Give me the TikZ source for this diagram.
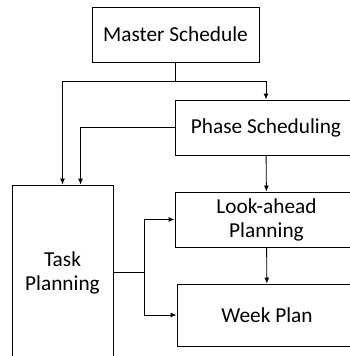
\documentclass[tikz,border=0pt]{standalone}
\usepackage{fontspec}
\setmainfont{Carlito}
\usetikzlibrary{arrows.meta}
\tikzset{
  blk/.style={draw,line width=0.9pt,align=center,inner sep=2pt,
    font=\fontsize{21.3}{24}\selectfont},
  flow/.style={line width=0.9pt,-{Latex[length=6pt,width=5pt]}}
}

\begin{document}
\begin{tikzpicture}[x=1pt,y=-1pt]
            \useasboundingbox (0,0) rectangle (350,356);

            \node [blk,minimum width=167pt,minimum height=55pt] (master) at (175.5,34.5) {Master Schedule};
            \node [blk,minimum width=182pt,minimum height=55pt] (phase) at (266,127.5) {Phase Scheduling};
            \node [blk,minimum width=183pt,minimum height=55pt] (look) at (266.5,219.5) {Look-ahead\\Planning};
            \node [blk,minimum width=180pt,minimum height=62pt] (week) at (267,315) {Week Plan};
            \node [blk,minimum width=101pt,minimum height=175pt] (task) at (62.5,272.5) {Task\\Planning};

            % from the master schedule
            \draw [line width=0.9pt] (master.south) -- ++(0,19) coordinate (split);
            \draw [flow] (split) -| (phase.north);
            \draw [flow] (split) -| (task.north);
            \draw [flow] (phase.west) -| ([xshift=18pt]task.north);

            \draw [flow] (phase) -- (look);
            \draw [flow] (look) -- (week);

            % task planning feeds both
            \draw [line width=0.9pt] (task.east) -- ++(31,0) coordinate (fork);
            \draw [flow] (fork) |- (look.west);
            \draw [flow] (fork) |- (week.west);
        \end{tikzpicture}
\end{document}
